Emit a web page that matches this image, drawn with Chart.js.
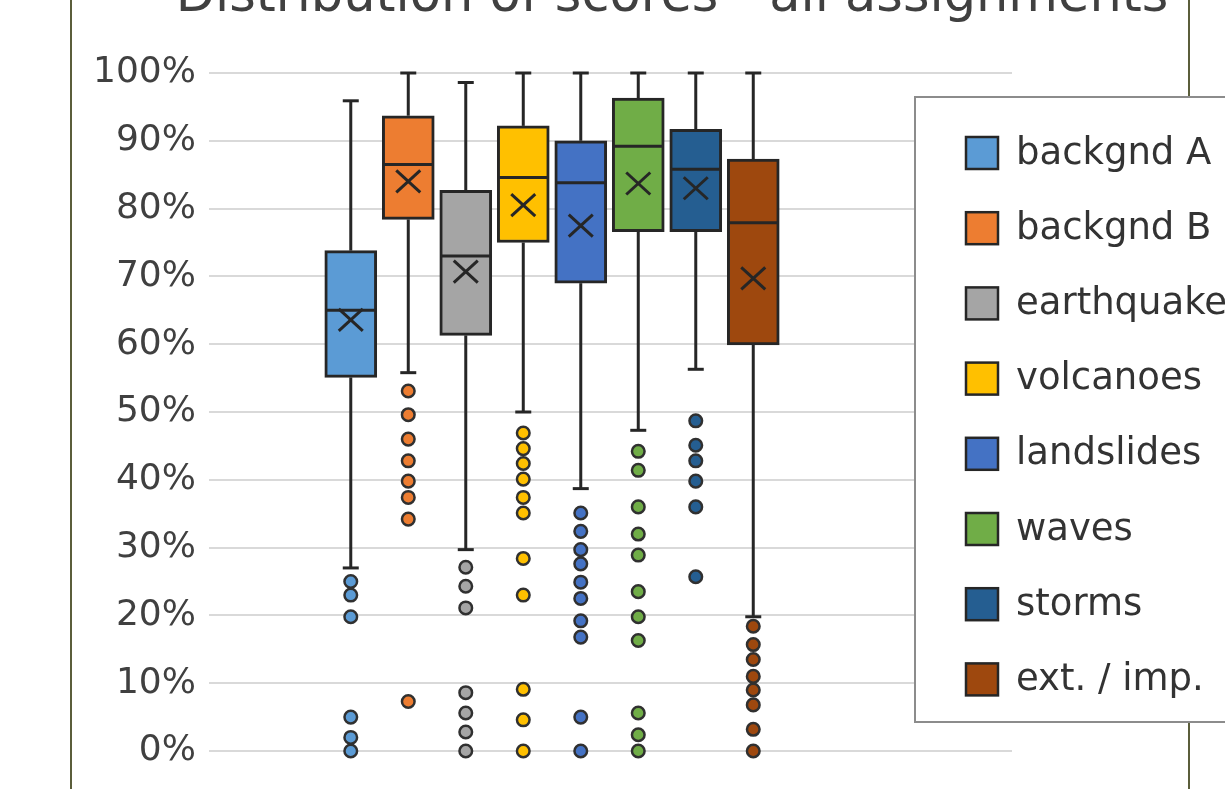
<!DOCTYPE html>
<html><head><meta charset="utf-8">
<script src="https://cdn.jsdelivr.net/npm/chart.js@4/dist/chart.umd.min.js"></script>
<style>
html,body{margin:0;padding:0;background:#fff;overflow:hidden;width:1225px;height:789px;}
#frame{position:absolute;left:70px;top:-10px;width:1120px;height:820px;box-sizing:border-box;border-left:2px solid #5b5e3b;border-right:2px solid #5b5e3b;}
#wrap{position:absolute;left:0;top:0;width:1225px;height:789px;}
</style></head><body>
<div id="frame"></div>
<div id="wrap"><canvas id="c"></canvas></div>
<script>
const titleText = 'Distribution of scores - all assignments';
const categories = ['backgnd A', 'backgnd B', 'earthquakes', 'volcanoes', 'landslides', 'waves', 'storms', 'ext. / imp.'];
const colors = ['#5B9BD5', '#ED7D31', '#A5A5A5', '#FFC000', '#4472C4', '#70AD47', '#255E91', '#9E480E'];
const whiskerLow  = [27.0, 55.8, 29.7, 50.0, 38.7, 47.3, 56.3, 19.8];
const q1          = [55.1, 78.4, 61.3, 75.0, 69.0, 76.6, 76.6, 59.9];
const median      = [65.0, 86.5, 73.0, 84.6, 83.8, 89.2, 85.8, 77.9];
const q3          = [73.8, 93.7, 82.7, 92.2, 90.0, 96.3, 91.7, 87.3];
const whiskerHigh = [95.9, 100, 98.6, 100, 100, 100, 100, 100];
const mean        = [63.6, 84.0, 70.7, 80.5, 77.5, 83.7, 83.0, 69.7];
const outliers = [
  [25.0, 23.0, 19.8, 5.0, 2.0, 0],
  [53.1, 49.6, 46.0, 42.8, 39.8, 37.4, 34.2, 7.3],
  [27.1, 24.3, 21.1, 8.6, 5.6, 2.8, 0],
  [46.9, 44.6, 42.4, 40.1, 37.4, 35.1, 28.4, 23.0, 9.1, 4.6, 0],
  [35.1, 32.4, 29.7, 27.6, 24.9, 22.5, 19.2, 16.8, 5.0, 0],
  [44.2, 41.4, 36.0, 32.0, 28.9, 23.5, 19.8, 16.3, 5.6, 2.4, 0],
  [48.7, 45.1, 42.8, 39.8, 36.0, 25.7],
  [18.4, 15.7, 13.5, 11.0, 9.0, 6.8, 3.2, 0]
];
const yTicks = [0, 10, 20, 30, 40, 50, 60, 70, 80, 90, 100];

const FONT = "'DejaVu Sans', sans-serif";
const EDGE = '#262626';

const datasets = [];
categories.forEach((name, i) => {
  datasets.push({
    type: 'bar', label: name, grouped: false,
    data: [{x: i, y: [q1[i], q3[i]]}],
    backgroundColor: colors[i], borderColor: EDGE, borderWidth: 3,
    borderSkipped: false, barThickness: 52, clip: false, order: 2
  });
});
categories.forEach((name, i) => {
  datasets.push({
    type: 'scatter', label: name + ' outliers',
    data: outliers[i].map(v => ({x: i, y: v})),
    backgroundColor: colors[i], borderColor: '#303030', borderWidth: 2.5,
    pointRadius: 6.3, showLine: false, clip: false, order: 1
  });
});

function seg(ctx, x1, y1, x2, y2) { ctx.beginPath(); ctx.moveTo(x1, y1); ctx.lineTo(x2, y2); ctx.stroke(); }

const boxParts = {
  id: 'boxParts',
  beforeDatasetsDraw(chart) {
    const {ctx, scales: {x, y}} = chart;
    ctx.save();
    ctx.strokeStyle = EDGE; ctx.lineWidth = 3;
    categories.forEach((c, i) => {
      const px = x.getPixelForValue(i);
      const yl = y.getPixelForValue(whiskerLow[i]), yh = y.getPixelForValue(whiskerHigh[i]);
      seg(ctx, px, yl, px, y.getPixelForValue(q1[i]));
      seg(ctx, px, yh, px, y.getPixelForValue(q3[i]));
      seg(ctx, px - 8, yl, px + 8, yl);
      seg(ctx, px - 8, yh, px + 8, yh);
    });
    ctx.restore();
  },
  afterDatasetsDraw(chart) {
    const {ctx, scales: {x, y}} = chart;
    ctx.save();
    ctx.strokeStyle = EDGE; ctx.lineWidth = 3;
    categories.forEach((c, i) => {
      const px = x.getPixelForValue(i);
      const ym = y.getPixelForValue(median[i]);
      seg(ctx, px - 25, ym, px + 25, ym);
      const ya = y.getPixelForValue(mean[i]);
      seg(ctx, px - 12, ya - 11, px + 12, ya + 11);
      seg(ctx, px - 12, ya + 11, px + 12, ya - 11);
    });
    ctx.restore();
  },
  afterDraw(chart) {
    const ctx = chart.ctx;
    ctx.save();
    // title (cut off at top)
    ctx.fillStyle = '#404040';
    ctx.font = '51px ' + FONT;
    ctx.textAlign = 'center'; ctx.textBaseline = 'alphabetic';
    ctx.fillText(titleText, 672, 11);
    // legend box
    ctx.fillStyle = '#ffffff';
    ctx.fillRect(915, 97, 400, 625);
    ctx.strokeStyle = '#8c8c8c'; ctx.lineWidth = 2;
    ctx.strokeRect(915, 97, 400, 625);
    ctx.font = '37px ' + FONT;
    ctx.textAlign = 'left'; ctx.textBaseline = 'middle';
    categories.forEach((name, i) => {
      const cy = 153 + 75.2 * i;
      ctx.fillStyle = colors[i];
      ctx.fillRect(966, cy - 16, 32, 32);
      ctx.strokeStyle = EDGE; ctx.lineWidth = 2.5;
      ctx.strokeRect(966, cy - 16, 32, 32);
      ctx.fillStyle = '#333333';
      ctx.fillText(name, 1016, cy + 1);
    });
    ctx.restore();
  }
};

new Chart(document.getElementById('c'), {
  type: 'bar',
  data: { datasets },
  options: {
    responsive: true, maintainAspectRatio: false, animation: false,
    layout: { padding: { left: 80, right: 213, top: 73, bottom: 38 } },
    plugins: { legend: { display: false }, tooltip: { enabled: false }, title: { display: false } },
    scales: {
      x: { type: 'linear', min: -2.467, max: 11.5, display: false, offset: false },
      y: {
        type: 'linear', min: 0, max: 100,
        afterBuildTicks(scale) { scale.ticks = yTicks.map(v => ({value: v})); },
        grid: { color: '#d9d9d9', lineWidth: 2, drawTicks: false },
        border: { display: false },
        ticks: { padding: 13, color: '#404040', font: { family: FONT, size: 36 }, callback: v => v + '%' }
      }
    }
  },
  plugins: [boxParts]
});
</script>
</body></html>
